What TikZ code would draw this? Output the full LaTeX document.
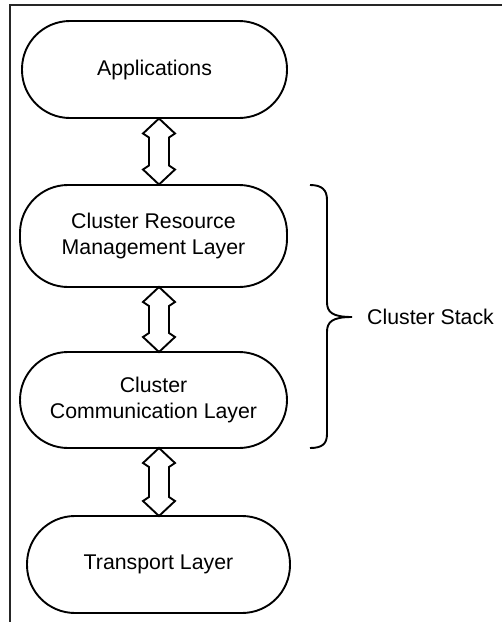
\documentclass[tikz,border=0pt]{standalone}
\usepackage{fontspec}
\setmainfont{Liberation Sans}
\begin{document}
\begin{tikzpicture}[x=1pt,y=-1pt,
  layer/.style={draw, line width=1.9pt, rounded corners=48pt, align=center,
    font=\fontsize{21.3}{26.5}\selectfont, inner sep=0pt},
  dblarrow/.style={draw, line width=1.9pt, line join=miter}
]
\useasboundingbox (0,0) rectangle (502,625);
% frame
\draw[line width=1.8pt, black!85] (502,5) -- (10,5) -- (10,622);
% layers
\node[layer, minimum width=265pt, minimum height=97pt] (app) at (154.5,69.5) {Applications};
\node[layer, minimum width=267pt, minimum height=102pt] (crm) at (153.5,236) {Cluster Resource\\Management Layer};
\node[layer, minimum width=267pt, minimum height=96pt] (ccl) at (153.5,400) {Cluster\\Communication Layer};
\node[layer, minimum width=263pt, minimum height=97pt] (tl) at (158.5,564.5) {Transport Layer};
% double arrows: #1 top y, #2 bottom y, named coordinates at ends
\newcommand{\dblarr}[3]{%
  \coordinate (#3a) at (159,#1);
  \coordinate (#3b) at (159,#2);
  \draw[dblarrow] (#3a) -- ++(16,15) -- ++(-6,4) -- (169,#2-19) -- ++(6,4) -- (#3b)
    -- ++(-16,-15) -- ++(6,-4) -- (149,#1+19) -- ++(-6,-4) -- cycle;}
\dblarr{118.5}{184.5}{aone}
\dblarr{287}{352}{atwo}
\dblarr{448}{516}{athree}
% brace
\coordinate (btop) at (310,185);
\coordinate (bbot) at (310,448);
\coordinate (btip) at (352,317);
\draw[line width=1.9pt] (btop) .. controls (322,185) and (327,190) .. (327,200)
  -- (327,302) .. controls (327,312) and (332,317) .. (btip)
  .. controls (332,317) and (327,322) .. (327,332)
  -- (327,434) .. controls (327,444) and (322,448) .. (bbot);
\node[anchor=west, font=\fontsize{21.3}{26.5}\selectfont, inner sep=0pt] (cs) at (367,317) {Cluster Stack};
\end{tikzpicture}
\end{document}
